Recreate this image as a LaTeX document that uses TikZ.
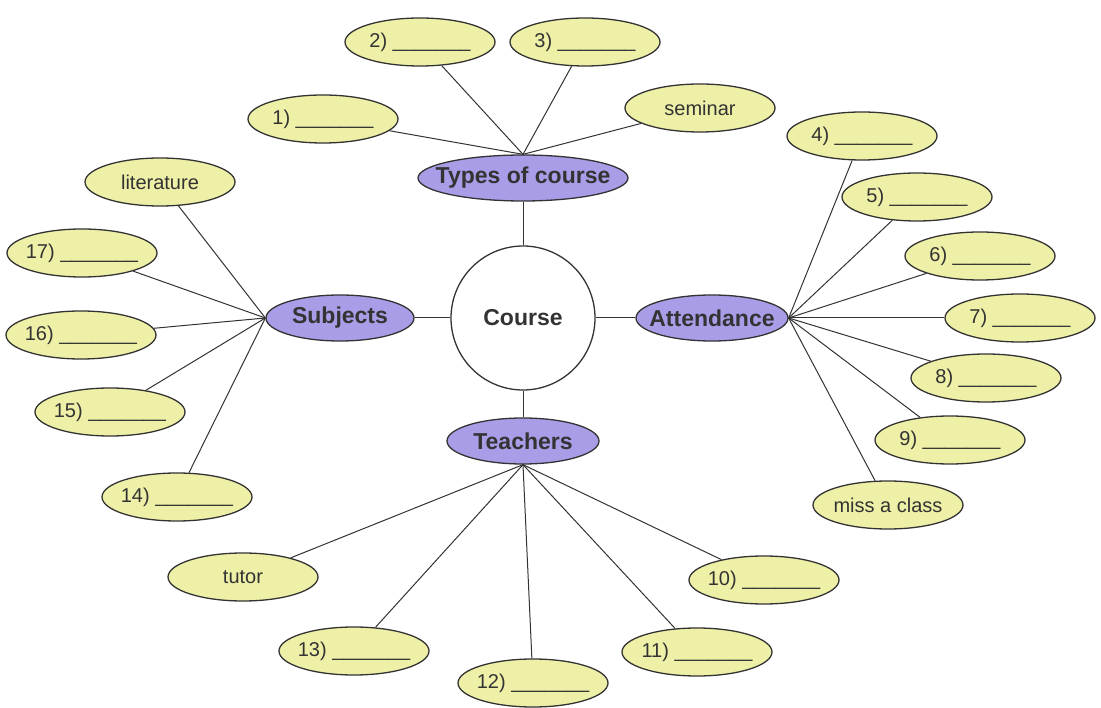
\documentclass[tikz,border=0pt]{standalone}
\usepackage{fontspec}
\setmainfont{Liberation Sans}
\usetikzlibrary{shapes.geometric}
\definecolor{leaffill}{HTML}{EDF0A6}
\definecolor{hubfill}{HTML}{A99DE8}
\definecolor{ink}{HTML}{333333}
\tikzset{
  leaf/.style={ellipse, draw=ink, line width=1.3pt, fill=leaffill, inner sep=0pt,
    minimum width=150pt, minimum height=48pt, text=ink, font=\fontsize{20}{22}\selectfont},
  hub/.style={ellipse, draw=ink, line width=1.3pt, fill=hubfill, inner sep=0pt,
    minimum height=46pt, text=ink, font=\bfseries\fontsize{23}{26}\selectfont},
  link/.style={draw=ink, line width=1pt}
}
\newcommand{\blank}[1]{\makebox[0pt]{#1)~\_\_\_\_\_\_\_}}
\newcommand{\word}[1]{\makebox[0pt]{#1}}
\begin{document}
\begin{tikzpicture}[x=1pt,y=-1pt]
\useasboundingbox (0,0) rectangle (1101,708);
% center
\node[circle, draw=ink, line width=1.3pt, fill=white, minimum size=144pt, inner sep=0pt,
  text=ink, font=\bfseries\fontsize{23}{26}\selectfont] (course) at (523,318) {Course};
% hubs
\node[hub, minimum width=210pt] (types) at (523,178) {\word{Types of course}};
\node[hub, minimum width=148pt] (subj) at (340,318) {\word{Subjects}};
\node[hub, minimum width=152pt] (att) at (712,318) {\word{Attendance}};
\node[hub, minimum width=152pt] (teach) at (523,441) {\word{Teachers}};
% types leaves
\node[leaf] (l1) at (323,119) {\blank{1}};
\node[leaf] (l2) at (420,42) {\blank{2}};
\node[leaf] (l3) at (585,42) {\blank{3}};
\node[leaf] (sem) at (700,108) {\word{seminar}};
% attendance leaves
\node[leaf] (l4) at (862,136) {\blank{4}};
\node[leaf] (l5) at (917,197) {\blank{5}};
\node[leaf] (l6) at (980,256) {\blank{6}};
\node[leaf] (l7) at (1020,318) {\blank{7}};
\node[leaf] (l8) at (986,378) {\blank{8}};
\node[leaf] (l9) at (950,440) {\blank{9}};
\node[leaf] (miss) at (888,505) {\word{miss a class}};
% teachers leaves
\node[leaf] (tutor) at (243,577) {\word{tutor}};
\node[leaf] (l13) at (354,651) {\blank{13}};
\node[leaf] (l12) at (533,683) {\blank{12}};
\node[leaf] (l11) at (697,652) {\blank{11}};
\node[leaf] (l10) at (764,580) {\blank{10}};
% subjects leaves
\node[leaf] (lit) at (160,182) {\word{literature}};
\node[leaf] (l17) at (82,253) {\blank{17}};
\node[leaf] (l16) at (81,335) {\blank{16}};
\node[leaf] (l15) at (110,412) {\blank{15}};
\node[leaf] (l14) at (177,497) {\blank{14}};
% connectors
\draw[link] (course) -- (types);
\draw[link] (course) -- (subj);
\draw[link] (course) -- (att);
\draw[link] (course) -- (teach);
\foreach \n in {l1,l2,l3,sem} \draw[link] (types.north) -- (\n);
\foreach \n in {l4,l5,l6,l7,l8,l9,miss} \draw[link] (att.east) -- (\n);
\foreach \n in {tutor,l13,l12,l11,l10} \draw[link] (teach.south) -- (\n);
\foreach \n in {lit,l17,l16,l15,l14} \draw[link] (subj.west) -- (\n);
\end{tikzpicture}
\end{document}
